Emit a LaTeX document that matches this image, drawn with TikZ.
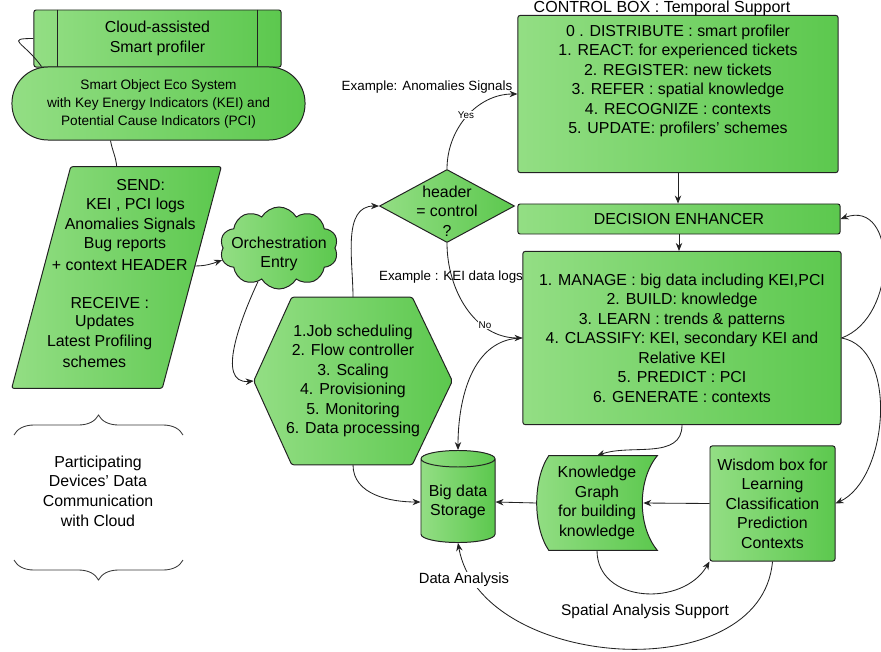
\documentclass[tikz,border=0pt]{standalone}
\usepackage{fontspec}
\setmainfont{Liberation Sans}
\usetikzlibrary{arrows.meta, positioning, shapes.geometric, shapes.symbols, calc, backgrounds, decorations.pathreplacing}
\definecolor{gnlight}{HTML}{93DE84}
\definecolor{gndark}{HTML}{5CC84E}
\definecolor{lnk}{HTML}{222222}

\begin{document}
\begin{tikzpicture}[x=0.025cm, y=0.025cm,
  gfill/.style={draw=lnk, line width=0.7pt, left color=gnlight, right color=gndark},
  gbox/.style={gfill, rounded corners=1.5pt, align=center, font=\fontsize{11.3}{13.9}\selectfont, inner sep=2pt},
  txt/.style={align=center, font=\fontsize{11.3}{13.9}\selectfont, inner sep=1pt},
  lbl/.style={font=\fontsize{9.5}{12}\selectfont, inner sep=1pt},
  tinylbl/.style={font=\fontsize{7}{8}\selectfont, fill=white, inner sep=0.5pt},
  arr/.style={-{Stealth[length=2mm, width=1.6mm]}, lnk, line width=0.6pt},
  link/.style={lnk, line width=0.6pt},
]
  \useasboundingbox (0,0) rectangle (881,-651);

  % left column
  \node[gbox, minimum width=6.175cm, minimum height=1.425cm] (prof) at (157.5,-38.5) {Cloud-assisted\\Smart profiler};
  \draw[lnk, line width=0.7pt] ([xshift=0.6cm]prof.north west) -- ([xshift=0.6cm]prof.south west)
    ([xshift=-0.6cm]prof.north east) -- ([xshift=-0.6cm]prof.south east);
  \node[gbox, rounded corners=0.9cm, minimum width=7.325cm, minimum height=1.825cm,
    font=\fontsize{9.7}{12.8}\selectfont] (eco) at (158.5,-103.5)
    {Smart Object Eco System\\with Key Energy Indicators (KEI) and\\Potential Cause Indicators (PCI)};
  \node[minimum width=5.225cm, minimum height=5.525cm, inner sep=0pt] (send) at (116.5,-277.5) {};
  \path[gfill, rounded corners=1.5pt] (send.south west) -- ([xshift=-1.475cm]send.south east) -- (send.north east)
    -- ([xshift=1.475cm]send.north west) -- cycle;
  \coordinate (sendout) at ($(send.north east)!0.448!([xshift=-1.475cm]send.south east)$);
  \foreach \ly/\lt [count=\i] in {185/SEND:, 205/{KEI , PCI logs}, 225/Anomalies Signals, 245/Bug reports,
      265/+ context HEADER, 303/RECEIVE :, 322/Updates, 342/Latest Profiling, 362/schemes}
    \node[txt] (sendl\i) at ({116.5-(\ly-277.5)*0.262}, -\ly) {\lt};

  \draw[link] (prof.west) to[out=180, in=125, looseness=2.6] ([xshift=0.75cm]eco.north west);
  \draw[link] ([xshift=-1.2cm]eco.south) to[out=-80, in=95] ([xshift=2.625cm]send.north west);

  \draw[lnk!90, line width=0.6pt, decorate, decoration={brace, amplitude=0.5cm}] (14,-435) -- (183,-435);
  \draw[lnk!90, line width=0.6pt, decorate, decoration={brace, amplitude=0.5cm}] (183,-560) -- (14,-560);
  \node[txt] (devices) at (98,-491) {Participating\\Devices' Data\\Communication\\with Cloud};

  % orchestration
  \node[gfill, cloud, cloud puffs=10, cloud puff arc=120, aspect=1.45, minimum width=2.95cm, minimum height=2.05cm,
    inner sep=0pt, label={[txt, yshift=-0.15cm]center:Orchestration\\Entry}] (orch) at (279,-248) {};
  \node[txt, minimum width=4.95cm, minimum height=4.175cm] (hex) at (353,-381)
    {1.Job scheduling\\2. Flow controller\\3. Scaling\\4. Provisioning\\5. Monitoring\\6. Data processing};
  \begin{scope}[on background layer]
    \path[gfill, rounded corners=1.5pt] (hex.west) -- ([xshift=0.95cm]hex.north west) -- ([xshift=-1cm]hex.north east)
      -- (hex.east) -- ([xshift=-1cm]hex.south east) -- ([xshift=0.95cm]hex.south west) -- cycle;
  \end{scope}
  \node[gfill, diamond, minimum width=3.375cm, minimum height=1.825cm, inner sep=0pt,
    label={[txt, yshift=-0.12cm]center:header\\= control\\?}] (dia) at (447,-206) {};

  \draw[arr] (sendout) to[out=0, in=200] (orch.192);
  \draw[arr] (orch.238) to[out=245, in=185] (hex.west);
  \draw[arr] (hex.north) to[out=90, in=180] (dia.west);

  % right column
  \node[gbox, minimum width=8cm, minimum height=3.925cm] (ctrl) at (678,-94)
    {0 . DISTRIBUTE : smart profiler\\1. REACT:  for experienced tickets\\2. REGISTER: new tickets\\
     3. REFER : spatial knowledge\\4. RECOGNIZE : contexts\\5. UPDATE: profilers' schemes\\[0.25cm]};
  \node[lbl, font=\fontsize{11.4}{13}\selectfont] (ctrltitle) at (662,-8) {CONTROL BOX : Temporal Support};
  \node[gbox, minimum width=8.05cm, minimum height=0.75cm] (dec) at (679,-219) {DECISION ENHANCER};
  \node[gbox, minimum width=7.95cm, minimum height=4.325cm] (man) at (682,-338)
    {1. MANAGE : big data including KEI,PCI\\2. BUILD: knowledge\\3. LEARN : trends \& patterns\\
     4. CLASSIFY:  KEI, secondary KEI and\\Relative KEI\\5. PREDICT : PCI\\6. GENERATE : contexts};

  \draw[arr] (dia.north) to[out=90, in=180] (ctrl.west);
  \node[tinylbl] (yes) at (466,-115) {Yes};
  \node[lbl] (exanom) at (427,-87) {Example: Anomalies Signals};
  \draw[arr] (dia.south) to[out=-90, in=180] (man.west);
  \node[tinylbl] (no) at (485,-325) {No};
  \node[lbl] (exkei) at (451,-277) {Example : KEI data logs};

  \draw[arr] (ctrl.south) -- (ctrl.south |- dec.north);
  \draw[arr] (dec.south) -- (dec.south |- man.north);

  % bottom row
  \node[gfill, cylinder, shape border rotate=90, aspect=0.27, minimum width=1.85cm, minimum height=2.3cm,
    txt] (store) at (458,-502) {Big data\\Storage};
  \node[txt, minimum width=3cm, minimum height=2.35cm] (kg) at (597,-503) {Knowledge\\Graph\\for building\\knowledge};
  \begin{scope}[on background layer]
    \path[gfill] ([xshift=0.3cm]kg.north west) -- (kg.north east)
      .. controls ([xshift=-0.5cm, yshift=-0.6cm]kg.north east) and ([xshift=-0.5cm, yshift=0.6cm]kg.south east) .. (kg.south east)
      -- ([xshift=0.3cm]kg.south west)
      .. controls ([xshift=-0.1cm, yshift=0.6cm]kg.south west) and ([xshift=-0.1cm, yshift=-0.6cm]kg.north west) .. ([xshift=0.3cm]kg.north west)
      -- cycle;
  \end{scope}
  \node[gbox, minimum width=3.125cm, minimum height=2.875cm] (wis) at (772.5,-503.5)
    {Wisdom box for\\Learning\\Classification\\Prediction\\Contexts};

  \draw[arr] (man.west) to[out=180, in=90] (store.north);
  \draw[arr] (hex.south) to[out=-90, in=180] (store.west);
  \draw[arr] (kg.west) -- (store.east);
  \draw[arr] (wis.west) -- ([xshift=-0.35cm]kg.east);
  \draw[arr] (man.south) to[out=-90, in=20] (kg.north);
  \draw[arr] (kg.south) to[out=-90, in=-120, looseness=1.2] (wis.south west);
  \draw[arr] (wis.south) to[out=-95, in=-80, looseness=1.05] (store.south);
  \draw[arr] (man.east) to[out=20, in=20, looseness=1.3] (dec.east);
  \draw[arr] (man.east) to[out=-10, in=25, looseness=0.9] (wis.east);
  \node[lbl, font=\fontsize{10.5}{12}\selectfont, fill=white] (dataan) at (464,-580) {Data Analysis};
  \node[lbl, font=\fontsize{11}{13}\selectfont] (spatial) at (645,-611) {Spatial Analysis Support};
\end{tikzpicture}
\end{document}
